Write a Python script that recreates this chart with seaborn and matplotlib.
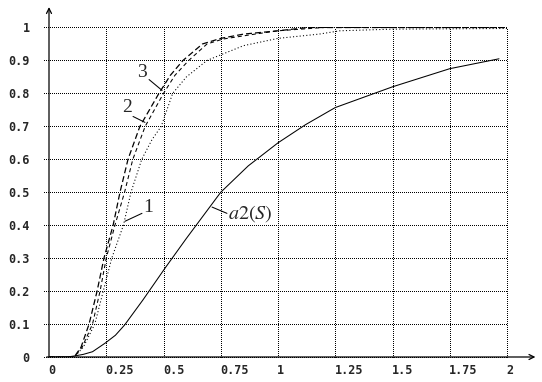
import numpy as np
import pandas as pd
import matplotlib
matplotlib.use("Agg")
import matplotlib.pyplot as plt
import seaborn as sns

# curves
x_c1 = [0, 0.11, 0.15, 0.2, 0.237, 0.274, 0.325, 0.358, 0.405, 0.45, 0.49, 0.54, 0.6, 0.69, 0.75, 0.85, 1.0, 1.18, 1.27, 1.5, 2.0]
y_c1 = [0, 0, 0.03, 0.1, 0.2, 0.3, 0.4, 0.5, 0.6, 0.66, 0.7, 0.8, 0.85, 0.9, 0.917, 0.945, 0.967, 0.98, 0.99, 0.995, 0.997]

x_c2 = [0, 0.11, 0.145, 0.19, 0.223, 0.25, 0.288, 0.33, 0.366, 0.42, 0.5, 0.55, 0.61, 0.69, 0.76, 0.9, 1.0, 1.2, 2.0]
y_c2 = [0, 0, 0.03, 0.1, 0.2, 0.3, 0.4, 0.5, 0.6, 0.7, 0.8, 0.855, 0.9, 0.95, 0.965, 0.98, 0.99, 1.0, 1.0]

x_c3 = [0, 0.11, 0.14, 0.175, 0.21, 0.24, 0.28, 0.31, 0.345, 0.397, 0.48, 0.53, 0.585, 0.67, 0.75, 0.85, 1.0, 1.13, 2.0]
y_c3 = [0, 0, 0.03, 0.1, 0.2, 0.3, 0.4, 0.5, 0.6, 0.7, 0.8, 0.855, 0.9, 0.95, 0.967, 0.98, 0.99, 1.0, 1.0]

x_a2 = [0, 0.08, 0.11, 0.15, 0.19, 0.245, 0.29, 0.33, 0.41, 0.507, 0.6, 0.75, 0.87, 1.0, 1.12, 1.25, 1.5, 1.75, 1.965]
y_a2 = [0, 0, 0.003, 0.008, 0.016, 0.042, 0.066, 0.097, 0.173, 0.27, 0.36, 0.5, 0.58, 0.65, 0.705, 0.757, 0.82, 0.875, 0.905]

x_ticks = [0, 0.25, 0.5, 0.75, 1, 1.25, 1.5, 1.75, 2]
x_ticklabels = ["0", "0.25", "0.5", "0.75", "1", "1.25", "1.5", "1.75", "2"]
y_ticks = [0, 0.1, 0.2, 0.3, 0.4, 0.5, 0.6, 0.7, 0.8, 0.9, 1.0]
y_ticklabels = ["0", "0.1", "0.2", "0.3", "0.4", "0.5", "0.6", "0.7", "0.8", "0.9", "1"]

sns.set_style("white")
plt.rcParams["mathtext.fontset"] = "stix"
plt.rcParams["lines.scale_dashes"] = False

fig = plt.figure(figsize=(5.42, 3.82), dpi=100)
ax = fig.add_axes([49 / 542, 25 / 382, 458 / 542, 329.5 / 382])
ax.set_xlim(0, 2)
ax.set_ylim(0, 1)
for s in ax.spines.values():
    s.set_visible(False)

lw = 0.72  # one pixel
dot = (0, (0.72, 1.44))
# grid
ax.hlines(y_ticks, -5 / 229, 2, colors="black", linewidth=lw, linestyles=[dot],
          clip_on=False, antialiased=False)
ax.vlines(x_ticks[1:], 0, 1, colors="black", linewidth=lw, linestyles=[dot],
          clip_on=False, antialiased=False)

# axes with arrows
ax.annotate("", xy=(1.062, 0), xytext=(-0.005, 0), xycoords="axes fraction",
            arrowprops=dict(arrowstyle="->", lw=0.9, color="black", mutation_scale=9, shrinkA=0, shrinkB=0))
ax.annotate("", xy=(0, 1.062), xytext=(0, 0), xycoords="axes fraction",
            arrowprops=dict(arrowstyle="->", lw=0.9, color="black", mutation_scale=9, shrinkA=0, shrinkB=0))

clw = 0.75
sns.lineplot(x=x_c1, y=y_c1, ax=ax, color="black", linewidth=clw, linestyle=(0, (0.8, 1.6)), sort=False)
sns.lineplot(x=x_c2, y=y_c2, ax=ax, color="black", linewidth=clw, linestyle=(0, (2.9, 2.2)), sort=False)
sns.lineplot(x=x_c3, y=y_c3, ax=ax, color="black", linewidth=0.9, linestyle=(0, (4.3, 2.2)), sort=False)
sns.lineplot(x=x_a2, y=y_a2, ax=ax, color="black", linewidth=clw, sort=False)

# tick labels
ax.set_xticks([])
ax.set_yticks([])
tick_font = dict(family="DejaVu Sans Mono", weight="bold", size=8.5)
for t, lab in zip(x_ticks, x_ticklabels):
    ax.annotate(lab, xy=(t, 0), xytext=(-0.5, -10), textcoords="offset points",
                ha="left", va="center", annotation_clip=False, **tick_font)
for t, lab in zip(y_ticks, y_ticklabels):
    ax.annotate(lab, xy=(0, t), xytext=(-14, -1), textcoords="offset points",
                ha="right", va="center", annotation_clip=False, **tick_font)

# curve labels with leaders
serif = "Liberation Serif"
fs = 14
ax.plot([0.437, 0.494], [0.842, 0.809], color="black", lw=clw)
ax.text(0.406, 0.862, "3", fontsize=fs, family=serif, ha="center", va="center")
ax.plot([0.367, 0.419], [0.730, 0.712], color="black", lw=clw)
ax.text(0.34, 0.758, "2", fontsize=fs, family=serif, ha="center", va="center")
ax.plot([0.406, 0.332], [0.436, 0.412], color="black", lw=clw)
ax.text(0.432, 0.455, "1", fontsize=fs, family=serif, ha="center", va="center")
ax.plot([0.712, 0.777], [0.455, 0.436], color="black", lw=clw)
ax.text(0.78, 0.436, r"$a2(S)$", fontsize=14.5, ha="left", va="center")

fig.savefig("out.png", dpi=100)
